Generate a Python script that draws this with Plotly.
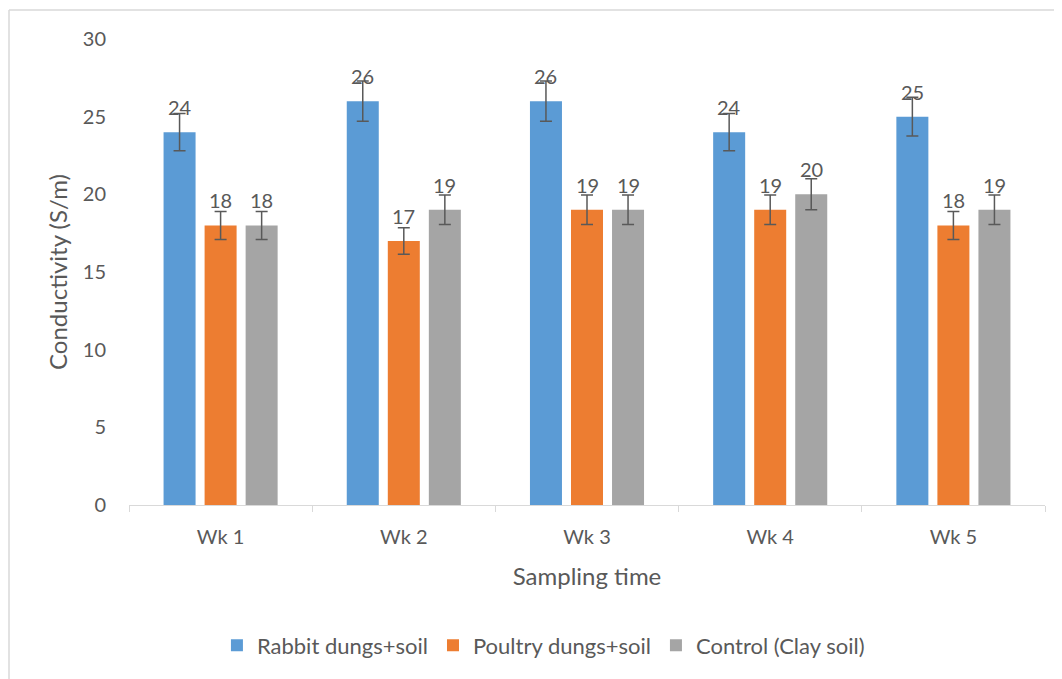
import plotly.graph_objects as go

categories = ["Wk 1", "Wk 2", "Wk 3", "Wk 4", "Wk 5"]
series_names = ["Rabbit dungs+soil", "Poultry dungs+soil", "Control (Clay soil)"]
rabbit = [24, 26, 26, 24, 25]
poultry = [18, 17, 19, 19, 18]
control = [18, 19, 19, 20, 19]
colors = ["#5B9BD5", "#ED7D31", "#A5A5A5"]
error_pct = 5  # Excel-style percentage error bars

FONT = "Lato, Carlito, 'Liberation Sans', sans-serif"
TXT = "#595959"
BARGAP = 0.328
BARGROUPGAP = 0.22

# page body has an 8px margin; figure is sized to fit the window
W, H = 1054, 671
PL, PR, PT, PB = 121, 1037, 31, 497  # plot area in figure pixels

series = [rabbit, poultry, control]
fig = go.Figure()
for name, vals, col in zip(series_names, series, colors):
    fig.add_trace(go.Bar(
        x=categories, y=vals, name=name,
        marker=dict(color=col, line=dict(width=0)),
        error_y=dict(type="percent", value=error_pct, color="#595959",
                     thickness=1.5, width=6),
    ))

slot = (1 - BARGAP) / len(series)
annotations = []
for j, vals in enumerate(series):
    for i, v in enumerate(vals):
        annotations.append(dict(
            x=i + (j - 1) * slot, y=v, xref="x", yref="y",
            text=str(v), showarrow=False, yanchor="bottom",
            yshift=11, font=dict(family=FONT, size=20, color=TXT),
        ))

bx = (1 - 129 + 8) / (PR - PL)  # border x in paper units (screen x≈8.5)
by = (PB - 2) / (PB - PT)        # border y in paper units (screen y≈10)

fig.update_layout(
    width=W, height=H,
    paper_bgcolor="white", plot_bgcolor="white",
    margin=dict(l=PL, r=W - PR, t=PT, b=H - PB),
    barmode="group", bargap=BARGAP, bargroupgap=BARGROUPGAP,
    font=dict(family=FONT, color=TXT),
    annotations=annotations,
    showlegend=True,
    legend=dict(orientation="h", x=0.508, xref="container", xanchor="center",
                y=0.05, yref="container", yanchor="middle",
                font=dict(family=FONT, size=22, color=TXT),
                itemwidth=30, traceorder="normal"),
    xaxis=dict(
        type="category", range=[-0.5, 4.5],
        showline=True, linecolor="#D9D9D9", linewidth=1,
        ticks="outside", tickson="boundaries", ticklen=6, tickcolor="#D9D9D9",
        ticklabelstandoff=14,
        showgrid=False, tickfont=dict(family=FONT, size=20, color=TXT),
        title=dict(text="Sampling time", font=dict(family=FONT, size=24, color=TXT),
                   standoff=21),
    ),
    yaxis=dict(
        range=[0, 30], dtick=5, showgrid=False, showline=False, zeroline=False,
        ticks="", ticklabelstandoff=22,
        tickfont=dict(family=FONT, size=20, color=TXT),
        title=dict(text="Conductivity (S/m)", font=dict(family=FONT, size=24, color=TXT),
                   standoff=8),
    ),
    shapes=[
        dict(type="line", xref="paper", yref="paper",
             x0=bx, x1=bx, y0=by, y1=-2,
             line=dict(color="#D9D9D9", width=1.5)),
        dict(type="line", xref="paper", yref="paper",
             x0=bx, x1=2, y0=by, y1=by,
             line=dict(color="#D9D9D9", width=1.5)),
    ],
)

fig.write_html("out.html")
